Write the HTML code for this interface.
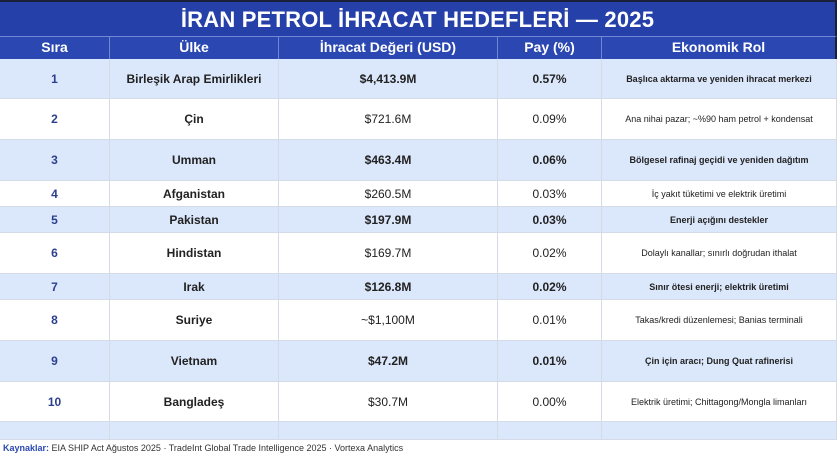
<!DOCTYPE html>
<html><head><meta charset="utf-8"><style>
*{margin:0;padding:0;box-sizing:border-box}
body{width:837px;height:456px;background:#fff;font-family:"Liberation Sans",Carlito,sans-serif;position:relative;overflow:hidden}
.t{position:absolute;left:0;top:0;width:837px;height:36px;background:#2540a8;border-top:2px solid #1a1f3a;border-right:2px solid #1a1f3a;color:#fff;font-weight:bold;font-size:22px;text-align:center;line-height:36px;letter-spacing:0.2px}
.h{position:absolute;top:36px;height:23px;background:#2b48b2;border-top:1px solid #6f88d6;color:#fff;font-weight:bold;font-size:14px;text-align:center;line-height:21px;border-right:1px solid #6f88d6}
.c{position:absolute;display:flex;align-items:center;justify-content:center;text-align:center;border-right:1px solid #d4dbe6;border-bottom:1px solid #d4dbe6;font-size:12px;color:#222}
.b{background:#dbe7fa}
.n{color:#2b3f8f;font-weight:bold}
.bo{font-weight:bold}
.r{font-size:9px}
.f{position:absolute;left:3px;top:443px;font-size:9px;color:#333}
.f span{color:#2b48b2;font-weight:bold}
</style></head><body>
<div class="t">İRAN PETROL İHRACAT HEDEFLERİ — 2025</div>
<div class="h" style="left:0;width:110px">Sıra</div>
<div class="h" style="left:110px;width:169px">Ülke</div>
<div class="h" style="left:279px;width:219px">İhracat Değeri (USD)</div>
<div class="h" style="left:498px;width:104px">Pay (%)</div>
<div class="h" style="left:602px;width:235px;border-right:2px solid #1a1f3a">Ekonomik Rol</div>
<div id="rows"></div>
<script>
var rows=[
[59,99,"1","Birleşik Arap Emirlikleri","$4,413.9M","0.57%","Başlıca aktarma ve yeniden ihracat merkezi",1],
[99,140,"2","Çin","$721.6M","0.09%","Ana nihai pazar; ~%90 ham petrol + kondensat",0],
[140,181,"3","Umman","$463.4M","0.06%","Bölgesel rafinaj geçidi ve yeniden dağıtım",1],
[181,207,"4","Afganistan","$260.5M","0.03%","İç yakıt tüketimi ve elektrik üretimi",0],
[207,233,"5","Pakistan","$197.9M","0.03%","Enerji açığını destekler",1],
[233,274,"6","Hindistan","$169.7M","0.02%","Dolaylı kanallar; sınırlı doğrudan ithalat",0],
[274,300,"7","Irak","$126.8M","0.02%","Sınır ötesi enerji; elektrik üretimi",1],
[300,341,"8","Suriye","~$1,100M","0.01%","Takas/kredi düzenlemesi; Banias terminali",0],
[341,382,"9","Vietnam","$47.2M","0.01%","Çin için aracı; Dung Quat rafinerisi",1],
[382,422,"10","Bangladeş","$30.7M","0.00%","Elektrik üretimi; Chittagong/Mongla limanları",0],
[422,440,"","","","","",1]];
var cols=[[0,110],[110,169],[279,219],[498,104],[602,235]];
var h="";
rows.forEach(function(r){
 var bl=r[7];
 for(var i=0;i<5;i++){
  var cls="c"+(bl?" b":"");
  if(i==0)cls+=" n";
  if(i==1)cls+=" bo";
  if((i==2||i==3||i==4)&&bl)cls+=" bo";
  if(i==4)cls+=" r";
  h+='<div class="'+cls+'" style="left:'+cols[i][0]+'px;width:'+cols[i][1]+'px;top:'+r[0]+'px;height:'+(r[1]-r[0])+'px">'+r[2+i]+'</div>';
 }
});
document.getElementById("rows").innerHTML=h;
</script>
<div class="f"><span>Kaynaklar:</span> EIA SHIP Act Ağustos 2025 · TradeInt Global Trade Intelligence 2025 · Vortexa Analytics</div>
</body></html>
